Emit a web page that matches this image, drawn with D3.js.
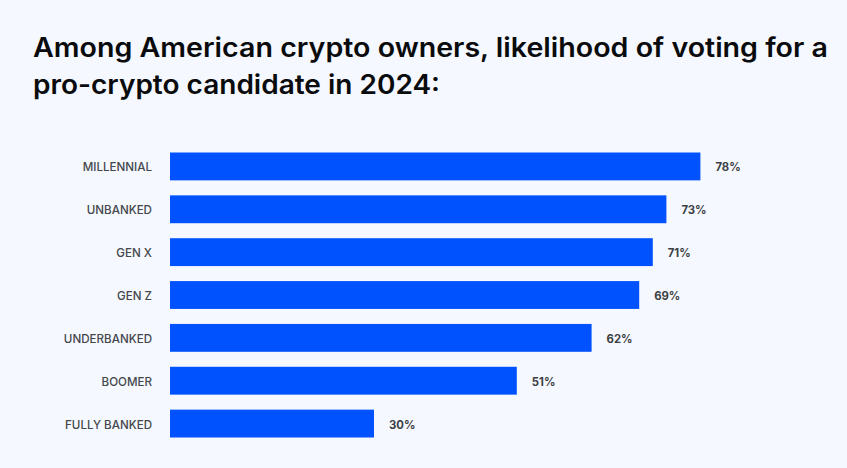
<!DOCTYPE html>
<html>
<head>
<meta charset="utf-8">
<script src="https://cdn.jsdelivr.net/npm/d3@7"></script>
<style>
  body { margin: 0; background: #f5f8fe; }
  svg { display: block; }
</style>
</head>
<body>
<div id="chart"></div>
<script>
const categories = ['MILLENNIAL', 'UNBANKED', 'GEN X', 'GEN Z', 'UNDERBANKED', 'BOOMER', 'FULLY BANKED'];
const values = [78, 73, 71, 69, 62, 51, 30];
const titleLines = ['Among American crypto owners, likelihood of voting for a', 'pro-crypto candidate in 2024:'];
const titleWidths = [795, 407];

const width = 847, height = 468;
const svg = d3.select('#chart').append('svg')
	.attr('width', width)
	.attr('height', height);

svg.append('rect').attr('width', width).attr('height', height).attr('fill', '#f5f8fe');

// title, stretched to the reference line widths
const title = svg.append('g').attr('class', 'title');
title.selectAll('text')
	.data(titleLines)
	.enter()
	.append('text')
	.attr('x', 33)
	.attr('y', (d, i) => 57 + i * 37)
	.attr('textLength', (d, i) => titleWidths[i])
	.attr('lengthAdjust', 'spacingAndGlyphs')
	.style('font-family', 'Inter, "Open Sans", sans-serif')
	.style('font-weight', 600)
	.style('font-size', '26.5px')
	.style('fill', '#0a0b0d')
	.text(d => d);

const x = d3.scaleLinear().domain([0, 100]).range([170, 850]);
const y = d3.scaleBand().domain(categories).range([145, 445]).paddingInner(0.35).paddingOuter(0.175);

const layer = svg.append('g');
layer.selectAll('.bar')
	.data(categories)
	.enter()
	.append('rect')
	.attr('class', 'bar')
	.attr('x', x(0))
	.attr('y', d => y(d))
	.attr('width', (d, i) => x(values[i]) - x(0))
	.attr('height', y.bandwidth())
	.style('fill', '#0052ff');

layer.selectAll('.cat')
	.data(categories)
	.enter()
	.append('text')
	.attr('class', 'cat')
	.attr('x', 152)
	.attr('y', d => y(d) + y.bandwidth() / 2 + 1)
	.attr('dy', '0.35em')
	.attr('text-anchor', 'end')
	.style('font-family', 'Inter, sans-serif')
	.style('font-weight', 500)
	.style('font-size', '11.6px')
	.style('fill', '#44474c')
	.text(d => d);

layer.selectAll('.val')
	.data(categories)
	.enter()
	.append('text')
	.attr('class', 'val')
	.attr('x', (d, i) => x(values[i]) + 15)
	.attr('y', d => y(d) + y.bandwidth() / 2 + 1)
	.attr('dy', '0.35em')
	.style('font-family', 'Inter, sans-serif')
	.style('font-weight', 700)
	.style('font-size', '11.3px')
	.style('fill', '#3c3f44')
	.text((d, i) => values[i] + '%');
</script>
</body>
</html>
